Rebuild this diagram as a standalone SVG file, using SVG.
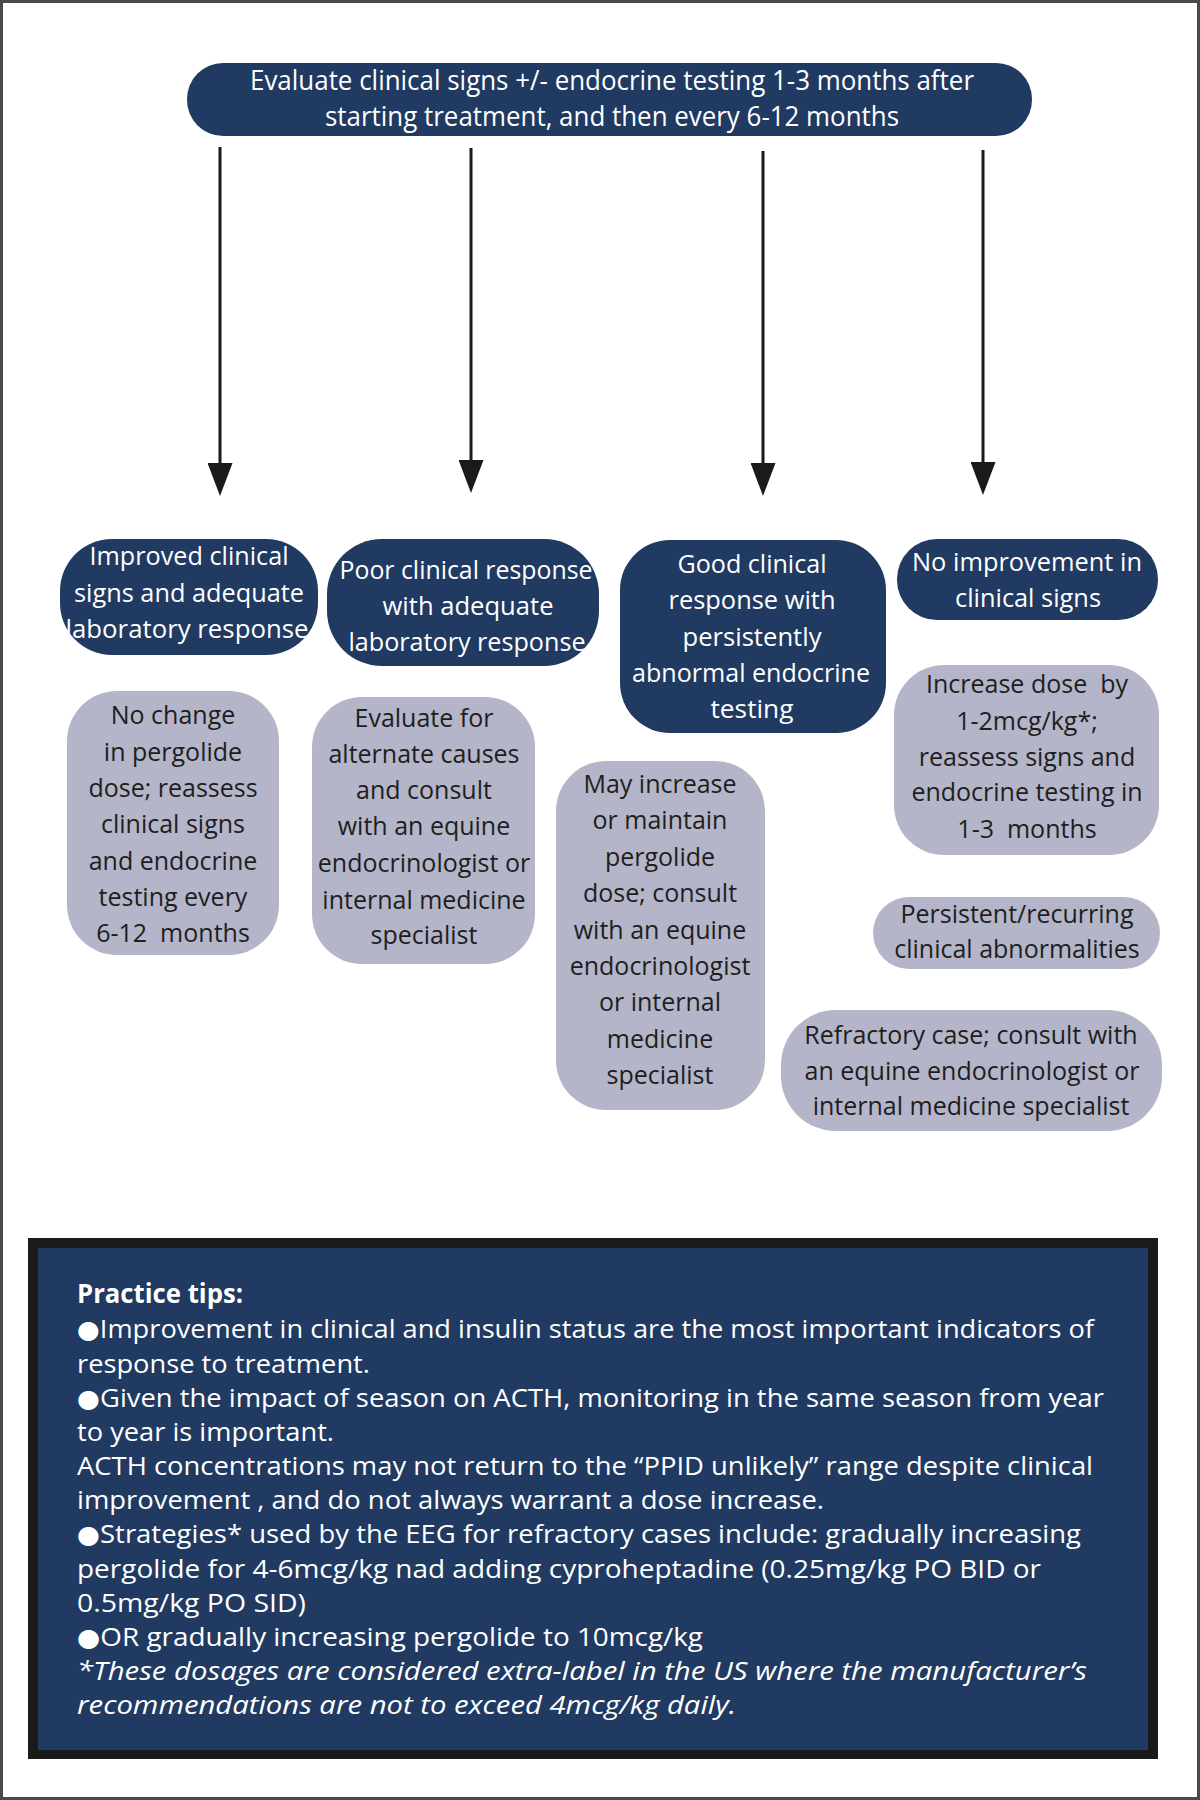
<svg xmlns="http://www.w3.org/2000/svg" width="1200" height="1800" viewBox="0 0 1200 1800">
<style>
.frame{fill:#ffffff;stroke:#4a4a4a;stroke-width:3}
.dark{fill:#203a62}
.gray{fill:#b4b5c8}
.wt{font-family:"Open Sans","Liberation Sans",sans-serif;font-size:28px;fill:#ffffff;text-anchor:middle}
.dt{font-family:"Open Sans","Liberation Sans",sans-serif;font-size:25px;fill:#ffffff;text-anchor:middle}
.gt{font-family:"Open Sans","Liberation Sans",sans-serif;font-size:25px;fill:#1e1e1e;text-anchor:middle}
.tip{font-family:"Open Sans","Liberation Sans",sans-serif;font-size:26px;fill:#ffffff}
.bul{font-family:"DejaVu Sans",sans-serif;font-size:25px}
.conn{stroke:#1a1a1a;stroke-width:3;fill:none}
</style>
<defs>
<marker id="ah" viewBox="0 0 33 25" markerWidth="33" markerHeight="25" refX="0" refY="12.5" orient="auto" markerUnits="userSpaceOnUse">
<path d="M0,0 L33,12.5 L0,25 Z" fill="#1a1a1a"/>
</marker>
</defs>
<rect class="frame" x="1.5" y="1.5" width="1197" height="1797"/>

<g id="n-top">
<rect class="dark" x="187" y="63" width="845" height="73" rx="36"/>
<text class="wt" x="612" y="90" textLength="724" lengthAdjust="spacingAndGlyphs">Evaluate clinical signs +/- endocrine testing 1-3 months after</text>
<text class="wt" x="612" y="126" textLength="574" lengthAdjust="spacingAndGlyphs">starting treatment, and then every 6-12 months</text>
</g>

<g id="connectors">
<line class="conn" x1="220" y1="147" x2="220" y2="463" marker-end="url(#ah)"/>
<line class="conn" x1="471" y1="148" x2="471" y2="460" marker-end="url(#ah)"/>
<line class="conn" x1="763" y1="151" x2="763" y2="463" marker-end="url(#ah)"/>
<line class="conn" x1="983" y1="150" x2="983" y2="462" marker-end="url(#ah)"/>
</g>

<g id="n-improved">
<rect class="dark" x="60" y="539" width="258" height="116" rx="52"/>
<text class="dt" x="189" y="565" textLength="199" lengthAdjust="spacingAndGlyphs">Improved clinical</text>
<text class="dt" x="189" y="602" textLength="230" lengthAdjust="spacingAndGlyphs">signs and adequate</text>
<text class="dt" x="187" y="638" textLength="243" lengthAdjust="spacingAndGlyphs">laboratory response</text>
</g>

<g id="n-poor">
<rect class="dark" x="327" y="539" width="272" height="127" rx="55"/>
<text class="dt" x="466" y="579" textLength="253" lengthAdjust="spacingAndGlyphs">Poor clinical response</text>
<text class="dt" x="468" y="615" textLength="171" lengthAdjust="spacingAndGlyphs">with adequate</text>
<text class="dt" x="467" y="651" textLength="237" lengthAdjust="spacingAndGlyphs">laboratory response</text>
</g>

<g id="n-good">
<rect class="dark" x="620" y="540" width="266" height="193" rx="50"/>
<text class="dt" x="752" y="573" textLength="149" lengthAdjust="spacingAndGlyphs">Good clinical</text>
<text class="dt" x="752" y="609" textLength="167" lengthAdjust="spacingAndGlyphs">response with</text>
<text class="dt" x="752" y="646" textLength="139" lengthAdjust="spacingAndGlyphs">persistently</text>
<text class="dt" x="751" y="682" textLength="238" lengthAdjust="spacingAndGlyphs">abnormal endocrine</text>
<text class="dt" x="752" y="718" textLength="83" lengthAdjust="spacingAndGlyphs">testing</text>
</g>

<g id="n-noimprove">
<rect class="dark" x="897" y="539" width="261" height="81" rx="40"/>
<text class="dt" x="1027" y="571" textLength="230" lengthAdjust="spacingAndGlyphs">No improvement in</text>
<text class="dt" x="1028" y="607" textLength="146" lengthAdjust="spacingAndGlyphs">clinical signs</text>
</g>

<g id="n-nochange">
<rect class="gray" x="67" y="691" width="212" height="264" rx="50"/>
<text class="gt" x="173" y="724">No change</text>
<text class="gt" x="173" y="761">in pergolide</text>
<text class="gt" x="173" y="797">dose; reassess</text>
<text class="gt" x="173" y="833">clinical signs</text>
<text class="gt" x="173" y="870">and endocrine</text>
<text class="gt" x="173" y="906">testing every</text>
<text class="gt" x="173" y="942" xml:space="preserve">6-12  months</text>
</g>

<g id="n-evaluate">
<rect class="gray" x="312" y="697" width="223" height="267" rx="50"/>
<text class="gt" x="424" y="727">Evaluate for</text>
<text class="gt" x="424" y="763">alternate causes</text>
<text class="gt" x="424" y="799">and consult</text>
<text class="gt" x="424" y="835">with an equine</text>
<text class="gt" x="424" y="872">endocrinologist or</text>
<text class="gt" x="424" y="909">internal medicine</text>
<text class="gt" x="424" y="944">specialist</text>
</g>

<g id="n-may">
<rect class="gray" x="556" y="761" width="209" height="349" rx="50"/>
<text class="gt" x="660" y="793">May increase</text>
<text class="gt" x="660" y="829">or maintain</text>
<text class="gt" x="660" y="866">pergolide</text>
<text class="gt" x="660" y="902">dose; consult</text>
<text class="gt" x="660" y="939">with an equine</text>
<text class="gt" x="660" y="975">endocrinologist</text>
<text class="gt" x="660" y="1011">or internal</text>
<text class="gt" x="660" y="1048">medicine</text>
<text class="gt" x="660" y="1084">specialist</text>
</g>

<g id="n-increase">
<rect class="gray" x="894" y="665" width="265" height="190" rx="50"/>
<text class="gt" x="1027" y="693" xml:space="preserve">Increase dose  by</text>
<text class="gt" x="1027" y="730">1-2mcg/kg*;</text>
<text class="gt" x="1027" y="766">reassess signs and</text>
<text class="gt" x="1027" y="801">endocrine testing in</text>
<text class="gt" x="1027" y="838" xml:space="preserve">1-3  months</text>
</g>

<g id="n-persistent">
<rect class="gray" x="873" y="897" width="287" height="72" rx="36"/>
<text class="gt" x="1017" y="923">Persistent/recurring</text>
<text class="gt" x="1017" y="958">clinical abnormalities</text>
</g>

<g id="n-refractory">
<rect class="gray" x="781" y="1010" width="381" height="121" rx="55"/>
<text class="gt" x="971" y="1044">Refractory case; consult with</text>
<text class="gt" x="972" y="1080">an equine endocrinologist or</text>
<text class="gt" x="971" y="1115">internal medicine specialist</text>
</g>

<g id="n-tips">
<rect x="28" y="1238" width="1130" height="521" fill="#1a1a1a"/>
<rect class="dark" x="38" y="1248" width="1110" height="502"/>
<text class="tip" x="77" y="1303" font-weight="bold" textLength="166" lengthAdjust="spacingAndGlyphs">Practice tips:</text>
<text class="tip" x="77" y="1338" textLength="1017" lengthAdjust="spacingAndGlyphs"><tspan class="bul">●</tspan>Improvement in clinical and insulin status are the most important indicators of</text>
<text class="tip" x="77" y="1373" textLength="293" lengthAdjust="spacingAndGlyphs">response to treatment.</text>
<text class="tip" x="77" y="1407" textLength="1027" lengthAdjust="spacingAndGlyphs"><tspan class="bul">●</tspan>Given the impact of season on ACTH, monitoring in the same season from year</text>
<text class="tip" x="77" y="1441" textLength="257" lengthAdjust="spacingAndGlyphs">to year is important.</text>
<text class="tip" x="77" y="1475" textLength="1016" lengthAdjust="spacingAndGlyphs">ACTH concentrations may not return to the “PPID unlikely” range despite clinical</text>
<text class="tip" x="77" y="1509" textLength="747" lengthAdjust="spacingAndGlyphs">improvement , and do not always warrant a dose increase.</text>
<text class="tip" x="77" y="1543" textLength="1004" lengthAdjust="spacingAndGlyphs"><tspan class="bul">●</tspan>Strategies* used by the EEG for refractory cases include: gradually increasing</text>
<text class="tip" x="77" y="1578" textLength="964" lengthAdjust="spacingAndGlyphs">pergolide for 4-6mcg/kg nad adding cyproheptadine (0.25mg/kg PO BID or</text>
<text class="tip" x="77" y="1612" textLength="229" lengthAdjust="spacingAndGlyphs">0.5mg/kg PO SID)</text>
<text class="tip" x="77" y="1646" textLength="626" lengthAdjust="spacingAndGlyphs"><tspan class="bul">●</tspan>OR gradually increasing pergolide to 10mcg/kg</text>
<text class="tip" x="77" y="1680" font-style="italic" textLength="1010" lengthAdjust="spacingAndGlyphs">*These dosages are considered extra-label in the US where the manufacturer’s</text>
<text class="tip" x="77" y="1714" font-style="italic" textLength="659" lengthAdjust="spacingAndGlyphs">recommendations are not to exceed 4mcg/kg daily.</text>
</g>
</svg>
